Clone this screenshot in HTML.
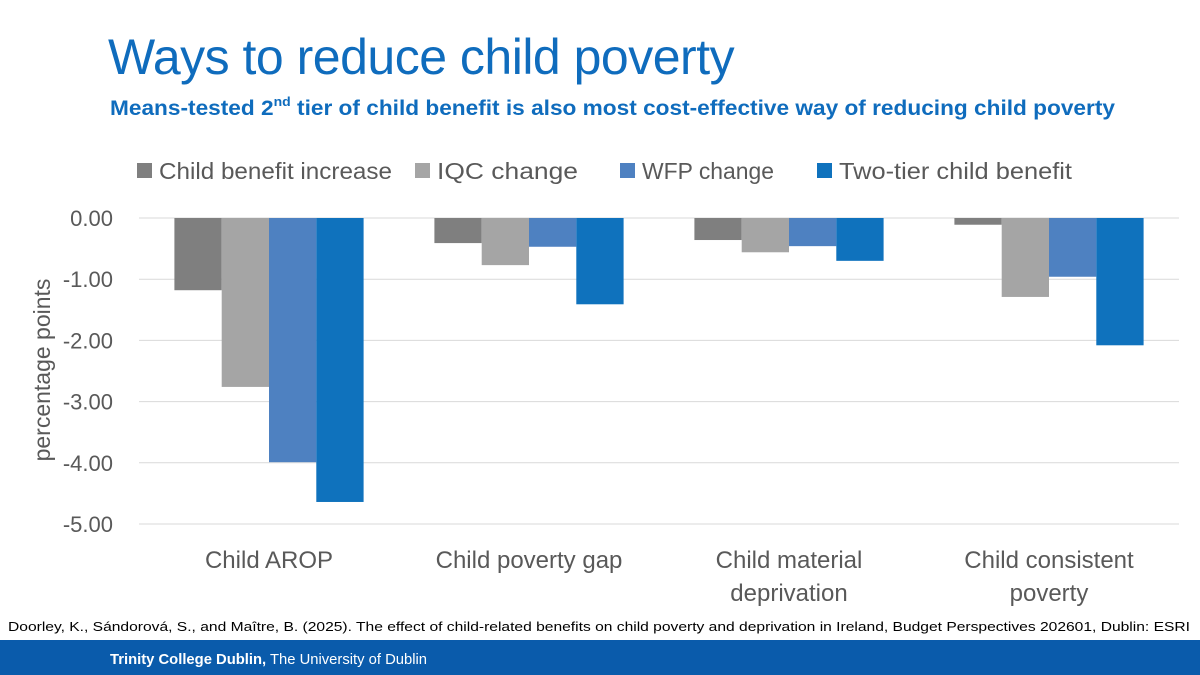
<!DOCTYPE html>
<html><head><meta charset="utf-8"><style>
body{margin:0;width:1200px;height:675px;overflow:hidden;background:#fff;font-family:"Liberation Sans",sans-serif;position:relative}
#title{position:absolute;left:108px;top:28px;font-size:50px;color:#0f6cbd;margin:0;font-weight:normal;letter-spacing:-0.5px}
#footer{position:absolute;left:0;top:640px;width:1200px;height:35px;background:#0a5bab}
svg{position:absolute;left:0;top:0}
</style></head><body>
<h1 id="title">Ways to reduce child poverty</h1>
<div id="footer"></div>
<svg id="chart" width="1200" height="675" font-family="Liberation Sans, sans-serif">
<text x="110" y="115" font-size="21" fill="#0f6cbd" font-weight="bold" textLength="1005" lengthAdjust="spacingAndGlyphs">Means-tested 2<tspan dy="-9" font-size="13">nd</tspan><tspan dy="9"> tier of child benefit is also most cost-effective way of reducing child poverty</tspan></text>
<text x="8" y="631" font-size="13" fill="#000" textLength="1182" lengthAdjust="spacingAndGlyphs">Doorley, K., Sándorová, S., and Maître, B. (2025). The effect of child-related benefits on child poverty and deprivation in Ireland, Budget Perspectives 202601, Dublin: ESRI</text>
<text x="110" y="664" font-size="15" fill="#fff" textLength="317" lengthAdjust="spacingAndGlyphs"><tspan font-weight="bold">Trinity College Dublin,</tspan> The University of Dublin</text>
</svg>
<script>
const categories=[["Child AROP"],["Child poverty gap"],["Child material","deprivation"],["Child consistent","poverty"]];
const seriesNames=["Child benefit increase","IQC change","WFP change","Two-tier child benefit"];
const cbIncrease=[-1.18,-0.41,-0.36,-0.11];
const iqcChange=[-2.76,-0.77,-0.56,-1.29];
const wfpChange=[-3.99,-0.47,-0.46,-0.96];
const twoTier=[-4.64,-1.41,-0.70,-2.08];
const yTicks=[0,-1,-2,-3,-4,-5];
const colors=["#7f7f7f","#a5a5a5","#4e81c1","#0f72bd"];
const series=[cbIncrease,iqcChange,wfpChange,twoTier];
const NS="http://www.w3.org/2000/svg";
const svg=document.getElementById('chart');
const x0=139,x1=1179,yTop=218,yBot=524;
const y=v=>yTop+(v/-5)*(yBot-yTop);
const gw=(x1-x0)/categories.length, bw=47.3;
function mk(t,a,p){const e=document.createElementNS(NS,t);for(const k in a)e.setAttribute(k,a[k]);(p||svg).appendChild(e);return e;}
yTicks.forEach(v=>{
  const l=mk('line',{x1:x0,x2:x1,y1:y(v),y2:y(v),stroke:'#d9d9d9','stroke-width':1});
  
  
  const t=mk('text',{x:113,y:y(v)+8,'text-anchor':'end','font-size':22,fill:'#595959'});
  t.textContent=v.toFixed(2);
  
  
});
const yt=mk('text',{x:0,y:0,transform:'translate(50,370) rotate(-90)','text-anchor':'middle','font-size':23,fill:'#595959'});
yt.textContent='percentage points';


categories.forEach((c,i)=>{
  const cx=x0+gw*(i+0.5);
  series.forEach((s,j)=>{
    const bx=cx-2*bw+j*bw;
    const r=mk('rect',{x:bx,y:yTop,width:bw,height:y(s[i])-yTop,fill:colors[j]});
    
    
  });
  c.forEach((line,k)=>{
    const t=mk('text',{x:cx,y:568+k*33,'text-anchor':'middle','font-size':24,fill:'#595959'});
    t.textContent=line;
    
    
  });
});
const legX=[137,415,620,817];
const legW=[233,141,132,233];
seriesNames.forEach((n,j)=>{
  const g=mk('g',{});
  
  
  mk('rect',{x:legX[j],y:163,width:15,height:15,fill:colors[j]},g);
  const t=mk('text',{x:legX[j]+22,y:179,'font-size':23,fill:'#595959',textLength:legW[j],lengthAdjust:'spacingAndGlyphs'},g);
  t.textContent=n;
});
</script>
</body></html>
